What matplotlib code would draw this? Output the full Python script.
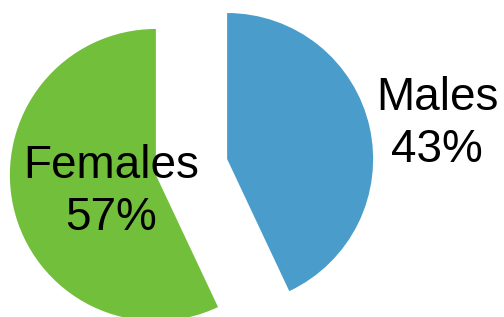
import matplotlib.pyplot as plt

# Gender split
labels = ["Males", "Females"]
shares = [43, 57]
colors = ["#4A9DCB", "#72BF3C"]

plt.rcParams['font.family'] = ['Liberation Sans', 'DejaVu Sans']

fig = plt.figure(figsize=(5.04, 3.17), dpi=100)
ax = fig.add_axes([0, 0, 1, 1])

r_px = 146.0  # pie radius in pixels
cx, cy = 191.5, 167.0  # pie centre in pixels (from top-left)

ax.pie(shares, colors=colors, startangle=90, counterclock=False,
       explode=[0.25, 0.25], radius=1.0, wedgeprops=dict(linewidth=0))

ax.set_xlim(-cx / r_px, (504 - cx) / r_px)
ax.set_ylim(-(317 - cy) / r_px, cy / r_px)
ax.set_aspect('equal')
ax.axis('off')

# label positions in pixel space, converted to data units
label_px = [(437, 124), (111, 192)]
for lab, val, (px, py) in zip(labels, shares, label_px):
    ax.text((px - cx) / r_px, (cy - py) / r_px, f"{lab}\n{val}%",
            ha='center', va='center', multialignment='center',
            fontsize=33, color='black', linespacing=1.25)

fig.savefig("out.png", dpi=100)
